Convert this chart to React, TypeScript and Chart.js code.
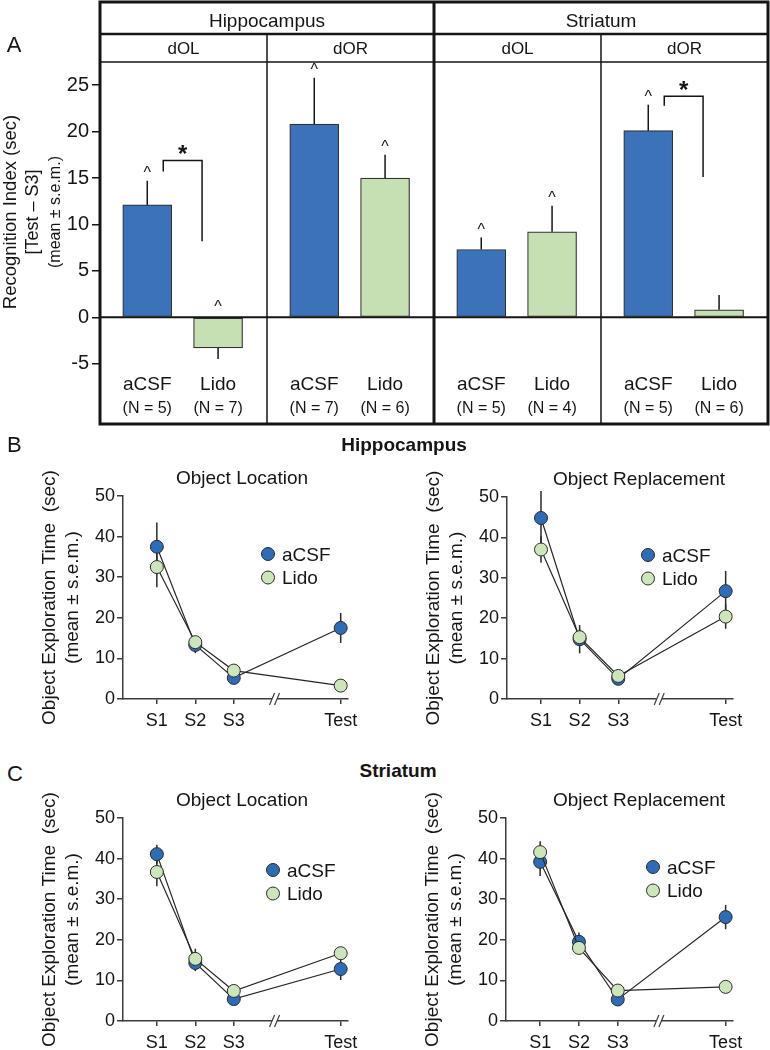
import React, { useEffect, useRef } from "react";
import { Chart, registerables } from "chart.js";
Chart.register(...registerables);

const FONT = "'Liberation Sans', Arial, Helvetica, sans-serif";
const BLUE = "#3b72b9";
const GREEN = "#c6e0b4";
const PT_BLUE = "#2f6cb6";
const PT_GREEN = "#cce5bb";
const INK = "#151515";
const AX = "#3c3c3c";

// ---------- Panel A data ----------
const regionNames = ["Hippocampus", "Striatum"];
const taskNames = ["dOL", "dOR", "dOL", "dOR"];
const groupNames = ["aCSF", "Lido"];
const aCSFIndex = [12.1, 20.8, 7.3, 20.1];
const aCSFIndexErr = [2.6, 5.0, 1.3, 2.8];
const lidoIndex = [-3.3, 15.0, 9.2, 0.8];
const lidoIndexErr = [1.2, 2.5, 2.8, 1.6];
const aCSFCounts = [5, 7, 5, 5];
const lidoCounts = [7, 6, 4, 6];
const aCSFCaret = [true, true, true, true];
const lidoCaret = [true, true, true, false];
const sigPanel = [0, 3];
const sigBarTop = [16.9, 23.8];
const sigLeftEnd = [15.7, 22.8];
const sigRightEnd = [8.2, 15.1];
const indexTicks = [25, 20, 15, 10, 5, 0, -5];
const indexMin = -11.5;
const indexMax = 27.5;

// ---------- Panels B, C data ----------
const sessionLabels = ["S1", "S2", "S3", "Test"];
const sessionPos = [1, 2, 3, 5.78];
const sessionMin = 0.12;
const sessionMax = 5.97;
const breakPos = 4.06;
const timeTicks = [0, 10, 20, 30, 40, 50];

const hipOLaCSF = [37.5, 13.3, 5.2, 17.5];
const hipOLaCSFErr = [6.0, 2.0, 1.0, 3.7];
const hipOLLido = [32.5, 14.0, 7.0, 3.3];
const hipOLLidoErr = [5.0, 1.5, 1.0, 0.8];

const hipORaCSF = [44.8, 14.8, 5.0, 26.7];
const hipORaCSFErr = [6.7, 3.5, 1.0, 5.0];
const hipORLido = [37.0, 15.3, 5.7, 20.4];
const hipORLidoErr = [3.3, 2.0, 1.0, 3.0];

const strOLaCSF = [41.1, 14.3, 5.4, 12.8];
const strOLaCSFErr = [2.3, 2.0, 1.0, 2.7];
const strOLLido = [36.7, 15.3, 7.4, 16.7];
const strOLLidoErr = [3.5, 2.5, 1.0, 1.5];

const strORaCSF = [39.2, 19.5, 5.3, 25.6];
const strORaCSFErr = [3.5, 2.3, 1.0, 3.0];
const strORLido = [41.6, 18.0, 7.5, 8.4];
const strORLidoErr = [2.7, 1.5, 1.0, 1.0];

const OFF_A = 0.283;
const OFF_L = 0.707;

function vtext(ctx: any, s: string, x: number, y: number, font: string) {
  ctx.save();
  ctx.translate(x, y);
  ctx.rotate(-Math.PI / 2);
  ctx.font = font;
  ctx.textAlign = "center";
  ctx.textBaseline = "alphabetic";
  ctx.fillStyle = INK;
  ctx.fillText(s, 0, 0);
  ctx.restore();
}

function IndexPanel() {
  const ref = useRef<HTMLCanvasElement>(null);
  useEffect(() => {
    const decorA = {
      id: "decorA",
      afterDraw(chart: any) {
        const ctx = chart.ctx;
        const xs = chart.scales.x;
        const ys = chart.scales.y;
        const { left: L, right: R, top: T, bottom: B } = chart.chartArea;
        const topY = T - 60;
        const rowY = T - 28;
        const px = (v: number) => xs.getPixelForValue(v);
        const py = (v: number) => ys.getPixelForValue(v);
        ctx.save();
        ctx.strokeStyle = INK;
        ctx.fillStyle = INK;
        const line = (x1: number, y1: number, x2: number, y2: number, w: number) => {
          ctx.lineWidth = w;
          ctx.beginPath();
          ctx.moveTo(x1, y1);
          ctx.lineTo(x2, y2);
          ctx.stroke();
        };
        const series = [
          { vals: aCSFIndex, errs: aCSFIndexErr, off: OFF_A, caret: aCSFCaret },
          { vals: lidoIndex, errs: lidoIndexErr, off: OFF_L, caret: lidoCaret },
        ];
        ctx.textAlign = "center";
        ctx.textBaseline = "alphabetic";
        series.forEach((s) =>
          s.vals.forEach((v, i) => {
            const x = px(i + s.off);
            const end = v >= 0 ? v + s.errs[i] : v - s.errs[i];
            line(x, py(v), x, py(end), 1.5);
            if (s.caret[i]) {
              ctx.font = `16px ${FONT}`;
              const refV = v >= 0 ? end : 0;
              ctx.fillText("^", x, py(refV) - (v >= 0 ? 2.5 : 5));
            }
          })
        );
        // significance brackets
        sigPanel.forEach((p, k) => {
          const xl = px(p + OFF_A) + 16;
          const xr = px(p + OFF_L) - 16;
          const yt = py(sigBarTop[k]);
          ctx.lineWidth = 1.5;
          ctx.beginPath();
          ctx.moveTo(xl, py(sigLeftEnd[k]));
          ctx.lineTo(xl, yt);
          ctx.lineTo(xr, yt);
          ctx.lineTo(xr, py(sigRightEnd[k]));
          ctx.stroke();
          ctx.font = `bold 24px ${FONT}`;
          ctx.fillText("*", (xl + xr) / 2, yt - 11.5 + 0.56 * 24);
        });
        // zero line
        line(L, py(0), R, py(0), 2);
        // frame
        ctx.lineWidth = 3;
        ctx.strokeRect(L, topY, R - L, B - topY);
        line(L, rowY, R, rowY, 2.5);
        line(L, T, R, T, 1.5);
        line(px(2), topY, px(2), B, 3);
        line(px(1), rowY, px(1), B, 1.5);
        line(px(3), rowY, px(3), B, 1.5);
        // headers
        ctx.font = `19px ${FONT}`;
        regionNames.forEach((n, r) => ctx.fillText(n, (px(2 * r) + px(2 * r + 2)) / 2, topY + 25));
        ctx.font = `17px ${FONT}`;
        taskNames.forEach((n, i) => ctx.fillText(n, (px(i) + px(i + 1)) / 2, T - 8));
        // group labels and N
        for (let i = 0; i < taskNames.length; i++) {
          ctx.font = `19px ${FONT}`;
          ctx.fillText(groupNames[0], px(i + OFF_A), B - 34);
          ctx.fillText(groupNames[1], px(i + OFF_L), B - 34);
          ctx.font = `16px ${FONT}`;
          ctx.fillText(`(N = ${aCSFCounts[i]})`, px(i + OFF_A), B - 11);
          ctx.fillText(`(N = ${lidoCounts[i]})`, px(i + OFF_L), B - 11);
        }
        // panel letter
        ctx.font = `22px ${FONT}`;
        ctx.fillText("A", 14, 52);
        ctx.restore();
        // y titles
        vtext(ctx, "Recognition Index (sec)", 15.5, 212, `18.5px ${FONT}`);
        vtext(ctx, "[Test \u2013 S3]", 38, 212, `18px ${FONT}`);
        vtext(ctx, "(mean \u00b1 s.e.m.)", 59.5, 212, `16px ${FONT}`);
      },
    };
    const mk = (label: string, vals: number[], color: string) => ({
      label,
      data: vals.map((v, i) => ({ x: i + (label === groupNames[0] ? OFF_A : OFF_L), y: v })),
      backgroundColor: color,
      borderColor: "#333",
      borderWidth: 1.2,
      borderSkipped: false,
      barThickness: 49,
      grouped: false,
    });
    const chart = new Chart(ref.current as any, {
      type: "bar",
      data: { datasets: [mk(groupNames[0], aCSFIndex, BLUE), mk(groupNames[1], lidoIndex, GREEN)] as any },
      options: {
        responsive: false,
        animation: false,
        devicePixelRatio: 1,
        events: [],
        layout: { autoPadding: false, padding: { left: 0, top: 62, right: 2, bottom: 24 } },
        plugins: { legend: { display: false }, tooltip: { enabled: false } },
        scales: {
          x: { type: "linear", min: 0, max: 4, display: false, offset: false },
          y: {
            type: "linear",
            min: indexMin,
            max: indexMax,
            afterFit: (s: any) => {
              s.width = 100;
            },
            afterBuildTicks: (s: any) => {
              s.ticks = indexTicks.map((v) => ({ value: v }));
            },
            ticks: { font: { family: FONT, size: 20 }, color: INK, padding: 3 },
            grid: { display: true, drawOnChartArea: false, drawTicks: true, tickLength: 8, color: INK, lineWidth: 1.5 },
            border: { display: false },
          },
        },
      } as any,
      plugins: [decorA],
    });
    return () => chart.destroy();
  }, []);
  return (
    <canvas ref={ref} width={770} height={448} style={{ position: "absolute", left: 0, top: 0, width: 770, height: 448 }} />
  );
}

function LinePanel(p: any) {
  const ref = useRef<HTMLCanvasElement>(null);
  useEffect(() => {
    const [al, at, ar, ab] = p.area;
    const cl = al - p.left;
    const ct = at - p.top;
    const cr = ar - p.left;
    const cb = ab - p.top;
    const decor = {
      id: "decorLine",
      beforeDatasetsDraw(chart: any) {
        const ctx = chart.ctx;
        const xs = chart.scales.x;
        const ys = chart.scales.y;
        ctx.save();
        ctx.strokeStyle = "#2a2a2a";
        ctx.lineWidth = 1.5;
        [
          [p.aCSF, p.aCSFErr],
          [p.lido, p.lidoErr],
        ].forEach(([vals, errs]: any) => {
          vals.forEach((v: number, i: number) => {
            const x = xs.getPixelForValue(sessionPos[i]);
            ctx.beginPath();
            ctx.moveTo(x, ys.getPixelForValue(v - errs[i]));
            ctx.lineTo(x, ys.getPixelForValue(v + errs[i]));
            ctx.stroke();
          });
        });
        ctx.restore();
      },
      afterDraw(chart: any) {
        const ctx = chart.ctx;
        const xs = chart.scales.x;
        const ca = chart.chartArea;
        ctx.save();
        // axis break
        const bx = xs.getPixelForValue(breakPos);
        const by = ca.bottom;
        ctx.fillStyle = "#fff";
        ctx.fillRect(bx - 2.5, by - 2, 5, 4);
        ctx.strokeStyle = AX;
        ctx.lineWidth = 1.2;
        [-2.5, 2.5].forEach((d) => {
          ctx.beginPath();
          ctx.moveTo(bx + d - 2.5, by + 6);
          ctx.lineTo(bx + d + 2.5, by - 6);
          ctx.stroke();
        });
        // title
        ctx.fillStyle = INK;
        ctx.font = `19px ${FONT}`;
        ctx.textAlign = "center";
        ctx.textBaseline = "alphabetic";
        ctx.fillText(p.title, p.titleX - p.left, ca.top - 12);
        // legend
        const lx = ca.left + p.legend[0];
        const ly = ca.top + p.legend[1];
        [
          [groupNames[0], PT_BLUE],
          [groupNames[1], PT_GREEN],
        ].forEach(([name, col], k) => {
          const y = ly + k * 23.5;
          ctx.beginPath();
          ctx.arc(lx, y, 6.5, 0, Math.PI * 2);
          ctx.fillStyle = col;
          ctx.fill();
          ctx.strokeStyle = "#2b2b2b";
          ctx.lineWidth = 1;
          ctx.stroke();
          ctx.fillStyle = INK;
          ctx.font = `19px ${FONT}`;
          ctx.textAlign = "left";
          ctx.fillText(name, lx + 14, y + 6.5);
        });
        ctx.restore();
        const cy = (ca.top + ca.bottom) / 2;
        vtext(ctx, "Object Exploration Time  (sec)", ca.left - 68, cy, `19px ${FONT}`);
        vtext(ctx, "(mean \u00b1 s.e.m.)", ca.left - 45, cy, `19px ${FONT}`);
      },
    };
    const mk = (label: string, vals: number[], fill: string, order: number) => ({
      label,
      data: sessionPos.map((x, i) => ({ x, y: vals[i] })),
      borderColor: "#262626",
      borderWidth: 1.2,
      pointRadius: 6.5,
      pointBackgroundColor: fill,
      pointBorderColor: "#2b2b2b",
      pointBorderWidth: 1,
      order,
      clip: false,
      tension: 0,
      fill: false,
    });
    const axisGrid = { display: true, drawOnChartArea: false, drawTicks: true, color: AX, lineWidth: 1.5 };
    const chart = new Chart(ref.current as any, {
      type: "line",
      data: {
        datasets: [mk(groupNames[0], p.aCSF, PT_BLUE, 1), mk(groupNames[1], p.lido, PT_GREEN, 0)] as any,
      },
      options: {
        responsive: false,
        animation: false,
        devicePixelRatio: 1,
        events: [],
        layout: { autoPadding: false, padding: { left: 0, top: ct, right: p.width - cr, bottom: 0 } },
        plugins: { legend: { display: false }, tooltip: { enabled: false } },
        scales: {
          x: {
            type: "linear",
            min: sessionMin,
            max: sessionMax,
            afterFit: (s: any) => {
              s.height = p.height - cb;
            },
            afterBuildTicks: (s: any) => {
              s.ticks = sessionPos.map((v) => ({ value: v }));
            },
            ticks: {
              callback: (_v: any, i: number) => sessionLabels[i],
              font: { family: FONT, size: 18 },
              color: INK,
              padding: 6,
              autoSkip: false,
              maxRotation: 0,
            },
            grid: { ...axisGrid, tickLength: 5 },
            border: { display: true, color: AX, width: 1.5 },
          },
          y: {
            type: "linear",
            min: 0,
            max: 50,
            afterFit: (s: any) => {
              s.width = cl;
            },
            afterBuildTicks: (s: any) => {
              s.ticks = timeTicks.map((v) => ({ value: v }));
            },
            ticks: { font: { family: FONT, size: 18 }, color: INK, padding: 2 },
            grid: { ...axisGrid, tickLength: 6 },
            border: { display: true, color: AX, width: 1.5 },
          },
        },
      } as any,
      plugins: [decor],
    });
    return () => chart.destroy();
  }, []);
  return (
    <canvas
      ref={ref}
      width={p.width}
      height={p.height}
      style={{ position: "absolute", left: p.left, top: p.top, width: p.width, height: p.height }}
    />
  );
}

function Label(props: any) {
  const { text, left, top, size, bold, width, center } = props;
  return (
    <div
      style={{
        position: "absolute",
        left,
        top,
        width: width || "auto",
        textAlign: center ? "center" : "left",
        fontFamily: FONT,
        fontSize: size,
        lineHeight: `${size}px`,
        fontWeight: bold ? "bold" : "normal",
        whiteSpace: "nowrap",
        color: INK,
        margin: 0,
      }}
    >
      {text}
    </div>
  );
}

export default function App() {
  return (
    <div style={{ position: "absolute", left: 0, top: 0, width: 770, height: 1050, background: "#fff", overflow: "hidden" }}>
      <IndexPanel />
      <Label text="B" left={7} top={434.4} size={22} />
      <Label text="Hippocampus" left={254} top={434.9} width={300} center size={19} bold />
      <LinePanel
        left={0}
        top={458}
        width={385}
        height={282}
        area={[123, 496, 348, 699]}
        title="Object Location"
        titleX={242}
        legend={[145, 58]}
        aCSF={hipOLaCSF}
        aCSFErr={hipOLaCSFErr}
        lido={hipOLLido}
        lidoErr={hipOLLidoErr}
      />
      <LinePanel
        left={385}
        top={458}
        width={385}
        height={282}
        area={[507, 497, 733, 699]}
        title="Object Replacement"
        titleX={639}
        legend={[141, 58]}
        aCSF={hipORaCSF}
        aCSFErr={hipORaCSFErr}
        lido={hipORLido}
        lidoErr={hipORLidoErr}
      />
      <Label text="C" left={7} top={763.4} size={22} />
      <Label text="Striatum" left={248} top={760.9} width={300} center size={19} bold />
      <LinePanel
        left={0}
        top={784}
        width={385}
        height={266}
        area={[123, 818, 348, 1021]}
        title="Object Location"
        titleX={242}
        legend={[150, 52]}
        aCSF={strOLaCSF}
        aCSFErr={strOLaCSFErr}
        lido={strOLLido}
        lidoErr={strOLLidoErr}
      />
      <LinePanel
        left={385}
        top={784}
        width={385}
        height={266}
        area={[506, 818, 733, 1021]}
        title="Object Replacement"
        titleX={639}
        legend={[147, 49]}
        aCSF={strORaCSF}
        aCSFErr={strORaCSFErr}
        lido={strORLido}
        lidoErr={strORLidoErr}
      />
    </div>
  );
}
